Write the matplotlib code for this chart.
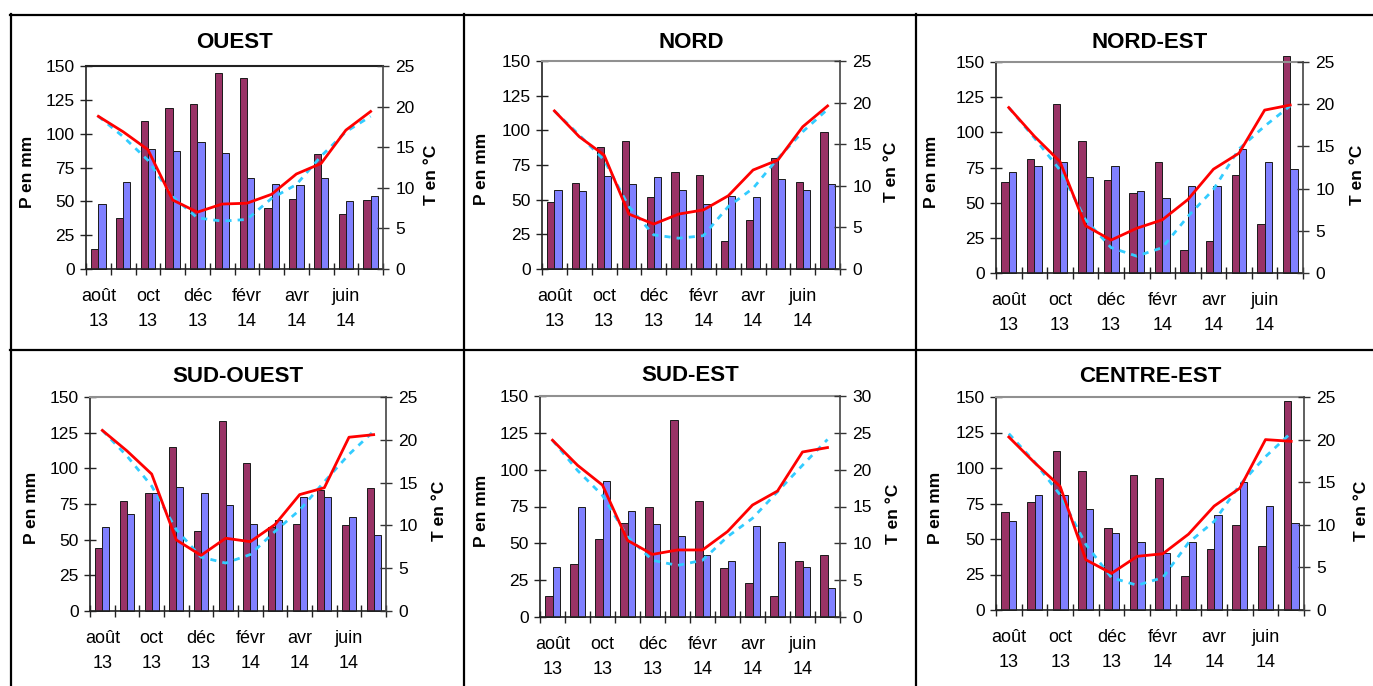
import numpy as np
import matplotlib
matplotlib.use("Agg")
import matplotlib.pyplot as plt
from matplotlib.lines import Line2D

plt.rcParams['font.family'] = ['Liberation Sans', 'DejaVu Sans']

# ---------------- data ----------------
month_labels = ["août\n13", "oct\n13", "déc\n13", "févr\n14", "avr\n14", "juin\n14"]
n_months = 12

# OUEST
ouest_p_obs = [15, 38, 109, 119, 122, 145, 141, 45, 52, 85, 41, 51]
ouest_p_norm = [48, 64, 89, 87, 94, 86, 67, 63, 62, 67, 50, 54]
ouest_t_obs = [18.8, 16.9, 14.7, 8.5, 7.0, 8.0, 8.1, 9.2, 11.7, 13.0, 17.1, 19.4]
ouest_t_norm = [18.8, 16.3, 13.4, 8.9, 6.3, 5.9, 6.1, 8.7, 10.4, 13.9, 16.9, 18.8]

# NORD
nord_p_obs = [48, 62, 88, 92, 52, 70, 68, 20, 35, 80, 63, 99]
nord_p_norm = [57, 56, 67, 61, 66, 57, 47, 53, 52, 65, 57, 61]
nord_t_obs = [19.0, 15.9, 13.7, 6.6, 5.4, 6.6, 7.1, 8.8, 11.9, 13.1, 17.1, 19.6]
nord_t_norm = [19.0, 16.1, 13.1, 7.5, 4.1, 3.7, 4.0, 7.5, 9.7, 13.3, 16.5, 19.2]

# NORD-EST
nordest_p_obs = [65, 81, 120, 94, 66, 57, 79, 16, 23, 70, 35, 154]
nordest_p_norm = [72, 76, 79, 68, 76, 58, 53, 62, 62, 88, 79, 74]
nordest_t_obs = [19.6, 16.2, 13.2, 5.6, 3.9, 5.3, 6.3, 8.7, 12.3, 14.2, 19.3, 19.9]
nordest_t_norm = [19.6, 16.0, 12.2, 6.3, 3.0, 2.0, 3.0, 6.7, 9.9, 14.7, 17.4, 19.8]

# SUD-OUEST
sudouest_p_obs = [44, 77, 83, 115, 56, 133, 104, 59, 61, 85, 60, 86]
sudouest_p_norm = [59, 68, 83, 87, 83, 74, 61, 64, 80, 80, 66, 53]
sudouest_t_obs = [21.1, 18.7, 16.0, 8.3, 6.5, 8.5, 8.1, 10.1, 13.6, 14.4, 20.3, 20.6]
sudouest_t_norm = [21.1, 18.1, 14.6, 9.5, 6.3, 5.6, 6.6, 9.3, 11.8, 15.1, 18.3, 21.0]

# SUD-EST
sudest_p_obs = [14, 36, 53, 64, 75, 134, 79, 33, 23, 14, 38, 42]
sudest_p_norm = [34, 75, 92, 72, 63, 55, 42, 38, 62, 51, 34, 20]
sudest_t_obs = [24.0, 20.6, 17.9, 10.4, 8.5, 9.1, 9.1, 11.6, 15.2, 17.1, 22.4, 23.0]
sudest_t_norm = [24.0, 19.9, 16.5, 10.9, 7.7, 7.0, 7.7, 10.9, 13.4, 17.0, 20.6, 24.1]

# CENTRE-EST
centreest_p_obs = [69, 76, 112, 98, 58, 95, 93, 24, 43, 60, 45, 147]
centreest_p_norm = [63, 81, 81, 71, 54, 48, 40, 48, 67, 90, 73, 61]
centreest_t_obs = [20.3, 17.3, 14.5, 5.9, 4.3, 6.3, 6.6, 8.9, 12.2, 14.3, 20.0, 19.8]
centreest_t_norm = [20.7, 17.4, 13.5, 7.7, 3.8, 2.9, 3.8, 7.9, 10.4, 14.7, 18.0, 20.8]

# ---------------- layout ----------------
W, H = 1373, 686
fig = plt.figure(figsize=(W / 100, H / 100), dpi=100)
fig.patch.set_facecolor('white')

C_OBS = '#993366'
C_NORM = '#8080FF'
C_TOBS = '#FF0000'
C_TNORM = '#33CCFF'

panels = [
    # title, p_obs, p_norm, t_obs, t_norm, (l, r, t, b), tmax, title_y, p_x, t_x, topcolor
    ("OUEST", ouest_p_obs, ouest_p_norm, ouest_t_obs, ouest_t_norm,
     (86, 383, 66, 269), 25, 43, 27, 432, '#222222'),
    ("NORD", nord_p_obs, nord_p_norm, nord_t_obs, nord_t_norm,
     (542, 840, 61, 269), 25, 42, 482, 892, '#909090'),
    ("NORD-EST", nordest_p_obs, nordest_p_norm, nordest_t_obs, nordest_t_norm,
     (996, 1303, 62, 273), 25, 43, 931, 1358, '#909090'),
    ("SUD-OUEST", sudouest_p_obs, sudouest_p_norm, sudouest_t_obs, sudouest_t_norm,
     (90, 386, 397, 611), 25, 377, 32, 439, '#909090'),
    ("SUD-EST", sudest_p_obs, sudest_p_norm, sudest_t_obs, sudest_t_norm,
     (540, 840, 396, 617), 30, 376, 482, 893, '#909090'),
    ("CENTRE-EST", centreest_p_obs, centreest_p_norm, centreest_t_obs, centreest_t_norm,
     (996, 1304, 397, 610), 25, 377, 936, 1361, '#909090'),
]

x = np.arange(n_months)
bw = 0.29

for (title, p_obs, p_norm, t_obs, t_norm, (l, r, t, b), tmax,
     title_y, p_x, t_x, topcol) in panels:
    ax = fig.add_axes([l / W, 1 - b / H, (r - l) / W, (b - t) / H])
    ax.bar(x - bw / 2, p_obs, width=bw, color=C_OBS, edgecolor='#1a1a1a',
           linewidth=0.7, clip_on=False, zorder=2)
    ax.bar(x + bw / 2, p_norm, width=bw, color=C_NORM, edgecolor='#1a1a1a',
           linewidth=0.7, clip_on=False, zorder=2)
    ax.set_xlim(-0.5, n_months - 0.5)
    ax.set_ylim(0, 150)
    ax.set_yticks(np.arange(0, 151, 25))
    ax.set_xticks(np.arange(-0.5, n_months, 1))
    ax.set_xticklabels([''] * (n_months + 1))
    ax.set_xticks(np.arange(0, n_months, 2), minor=True)
    ax.set_xticklabels(month_labels, minor=True, fontsize=13, linespacing=1.6)
    ax.tick_params(axis='y', which='major', direction='inout', length=8,
                   width=1, labelsize=12.5, pad=4, colors='#222222',
                   labelcolor='black')
    ax.tick_params(axis='x', which='major', direction='inout', length=9,
                   width=1, colors='#222222')
    ax.tick_params(axis='x', which='minor', length=0, pad=14)
    for sp in ['left', 'bottom']:
        ax.spines[sp].set_color('#222222')
        ax.spines[sp].set_linewidth(1.2)
    ax.spines['top'].set_color(topcol)
    ax.spines['top'].set_linewidth(1.5)
    ax.spines['right'].set_visible(False)

    ax2 = ax.twinx()
    ax2.plot(x, t_norm, color=C_TNORM, linewidth=2.0, linestyle=(0, (2.2, 2.2)),
             zorder=3)
    ax2.plot(x, t_obs, color=C_TOBS, linewidth=2.0, zorder=4)
    ax2.set_ylim(0, tmax)
    ax2.set_yticks(np.arange(0, tmax + 1, 5))
    ax2.tick_params(axis='y', direction='inout', length=8, width=1,
                    labelsize=12.5, pad=5, colors='#333333', labelcolor='black')
    ax2.spines['right'].set_color('#444444')
    ax2.spines['right'].set_linewidth(1.2)
    for sp in ['left', 'top', 'bottom']:
        ax2.spines[sp].set_visible(False)

    cx = (l + r) / 2
    fig.text(cx / W, 1 - title_y / H, title, ha='center', va='center',
             fontsize=16, fontweight='bold')
    cy = (t + b) / 2
    fig.text(p_x / W, 1 - (cy + 4) / H, "P en mm", rotation=90, ha='center',
             va='center', fontsize=12.5, fontweight='bold')
    fig.text(t_x / W, 1 - (cy + 7) / H, "T en °C", rotation=90, ha='center',
             va='center', fontsize=12.5, fontweight='bold')

# table borders
def hline(y, x0, x1):
    fig.add_artist(Line2D([x0 / W, x1 / W], [1 - y / H, 1 - y / H],
                          color='black', linewidth=1.6))

def vline(xp, y0, y1):
    fig.add_artist(Line2D([xp / W, xp / W], [1 - y0 / H, 1 - y1 / H],
                          color='black', linewidth=1.6))

hline(15, 10, W)
hline(350, 10, W)
vline(11, 14, H)
vline(463.5, 14, H)
vline(915.5, 14, H)

fig.savefig("out.png", dpi=100)
